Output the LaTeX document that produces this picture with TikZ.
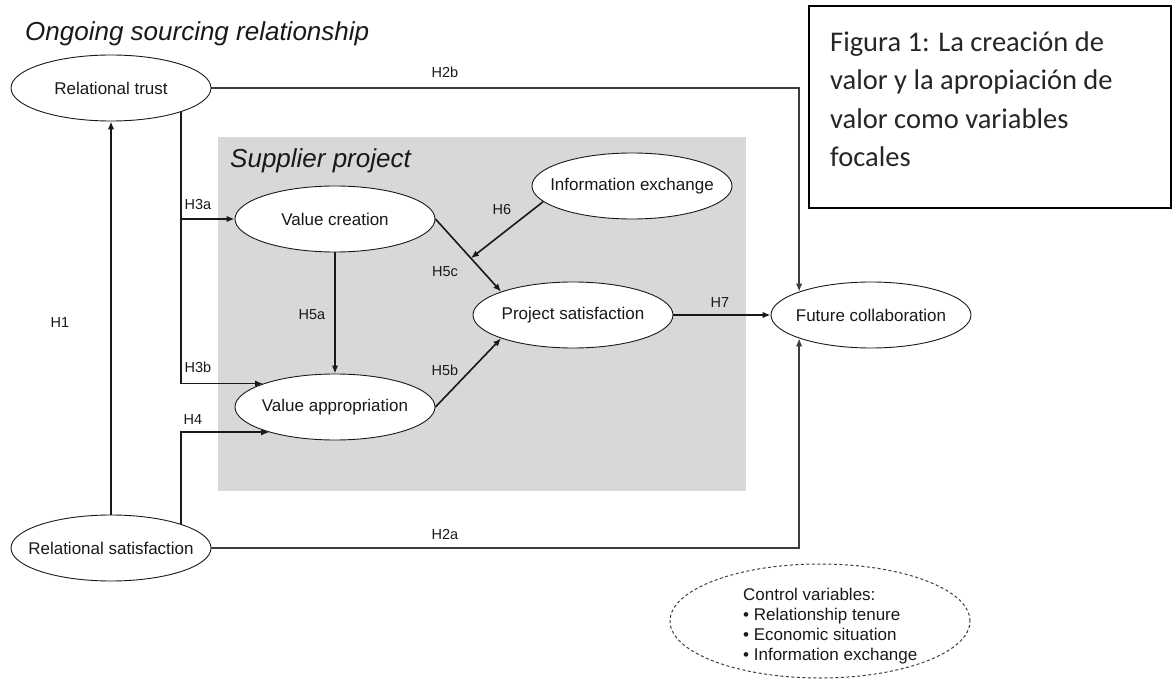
\documentclass[tikz,border=0pt]{standalone}
\usepackage{fontspec}
\usetikzlibrary{shapes.geometric,arrows.meta,calc}
\newfontfamily\diagfont{Liberation Sans}
\newfontfamily\capfont{Carlito}
\definecolor{panel}{RGB}{216,216,216}
\definecolor{ink}{RGB}{25,25,25}
\definecolor{frameink}{RGB}{60,60,60}

\begin{document}
\begin{tikzpicture}[x=1pt,y=-1pt,
  var/.style={ellipse, draw=ink, line width=0.9pt, fill=white, inner sep=0pt,
    minimum width=200pt, minimum height=66pt,
    font=\diagfont\fontsize{17}{20}\selectfont, text=ink},
  link/.style={draw=ink, line width=1.6pt},
  arr/.style={link, -{Latex[length=8pt,width=6.5pt]}},
  outer/.style={draw=frameink, line width=2pt, -{Latex[length=8pt,width=6.5pt]}},
  hyp/.style={font=\diagfont\fontsize{14.5}{17}\selectfont, inner sep=0pt, text=ink},
  heading/.style={anchor=base west, inner sep=0pt, text=ink,
    font=\diagfont\itshape\fontsize{26}{30}\selectfont},
]
\useasboundingbox (0,0) rectangle (1176,684);
\fill[white] (0,0) rectangle (1176,684);

% inner panel for the supplier project
\fill[panel] (218,137) rectangle (746,491);

% headings
\node[heading] (osr) at (25,41) {Ongoing sourcing relationship};
\node[heading] (sp) at (230,168) {Supplier project};

% constructs
\node[var] (rt) at (111,88)  {\makebox[0pt]{Relational trust}};
\node[var] (rs) at (111,548) {\makebox[0pt]{Relational satisfaction}};
\node[var] (vc) at (335,219) {\makebox[0pt]{Value creation}};
\node[var] (va) at (335,407) {\makebox[0pt]{Value appropriation}};
\node[var] (ie) at (632,186) {\makebox[0pt]{Information exchange}};
\node[var] (ps) at (573,315) {\makebox[0pt]{Project satisfaction}};
\node[var] (fc) at (871,315) {\makebox[0pt]{Future collaboration}};

% control variables
\node[ellipse, draw=frameink, line width=1pt, dash pattern=on 3pt off 2.5pt,
      minimum width=300pt, minimum height=114pt, inner sep=0pt] (cv) at (820,621) {};
\node[anchor=west, align=left, inner sep=0pt, text=ink,
      font=\diagfont\fontsize{17}{19.8}\selectfont] (cvtext) at (743,626)
  {Control variables:\\ \textbullet\ Relationship tenure\\ \textbullet\ Economic situation\\ \textbullet\ Information exchange};

% caption box
\node[draw=black, line width=1.6pt, minimum width=362pt, minimum height=202pt,
      inner sep=0pt] (capbox) at (990,107) {};
\node[anchor=base west, align=left, inner sep=0pt, text=black!85,
      font=\capfont\fontsize{28.5}{38.5}\selectfont] (captext) at (830,167)
  {Figura 1: La creación de\\ valor y la apropiación de\\ valor como variables\\ focales};

% relational paths around the project
\draw[arr] (rs) -- (rt);
\draw[outer] (rt.east) -| (fc.162);
\draw[outer] (rs.east) -| (fc.198);
\draw[arr] (rt.341) |- (va.162);
\draw[arr] (rt.341 |- vc.west) -- (vc.west);
\draw[arr] (rs.19) |- (va.201);

% paths inside the project
\draw[arr] (vc) -- (va);
\draw[arr] (vc.east) -- coordinate[pos=0.54] (mod) (ps.162);
\draw[arr] (ie.190) -- (mod);
\draw[arr] (va.east) -- (ps.198);
\draw[arr] (ps.east) -- (fc.west);

% hypothesis labels
\node[hyp] (h1)  at (60,323)  {H1};
\node[hyp] (h2b) at (445,72)  {H2b};
\node[hyp] (h2a) at (445,535) {H2a};
\node[hyp] (h3a) at (198,205) {H3a};
\node[hyp] (h3b) at (198,367) {H3b};
\node[hyp] (h4)  at (193,420) {H4};
\node[hyp] (h5a) at (312,315) {H5a};
\node[hyp] (h5b) at (445,370) {H5b};
\node[hyp] (h5c) at (445,272) {H5c};
\node[hyp] (h6)  at (502,210) {H6};
\node[hyp] (h7)  at (720,303) {H7};
\end{tikzpicture}
\end{document}
